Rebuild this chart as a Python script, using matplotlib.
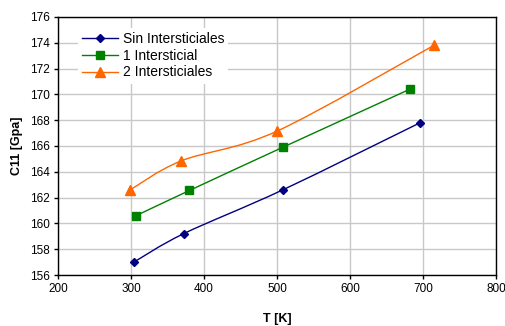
import numpy as np
import matplotlib.pyplot as plt
from matplotlib.path import Path
from matplotlib.patches import PathPatch

plt.rcParams['font.family'] = ['Liberation Sans', 'DejaVu Sans']

# datos
t_sin = [304, 372, 508, 696]
c11_sin = [157.0, 159.2, 162.6, 167.8]
t_1 = [307, 380, 508, 682]
c11_1 = [160.6, 162.55, 165.9, 170.4]
t_2 = [299, 369, 500, 715]
c11_2 = [162.6, 164.85, 167.15, 173.8]

series = [
    ('Sin Intersticiales', t_sin, c11_sin, '#000080', 'D', 4.5),
    ('1 Intersticial', t_1, c11_1, '#008000', 's', 6),
    ('2 Intersticiales', t_2, c11_2, '#FF6600', '^', 7),
]


def smooth_path(x, y, tension=1 / 6):
    # curva suavizada tipo Excel (Catmull-Rom en forma Bezier)
    x = np.asarray(x, float)
    y = np.asarray(y, float)
    verts = [(x[0], y[0])]
    codes = [Path.MOVETO]
    n = len(x)
    for i in range(n - 1):
        p0 = i - 1 if i > 0 else i
        p3 = i + 2 if i + 2 < n else i + 1
        c1 = (x[i] + (x[i + 1] - x[p0]) * tension, y[i] + (y[i + 1] - y[p0]) * tension)
        c2 = (x[i + 1] - (x[p3] - x[i]) * tension, y[i + 1] - (y[p3] - y[i]) * tension)
        verts += [c1, c2, (x[i + 1], y[i + 1])]
        codes += [Path.CURVE4] * 3
    return Path(verts, codes)


fig = plt.figure(figsize=(5.06, 3.26), dpi=100)
ax = fig.add_axes([0.1146, 0.1564, 0.8656, 0.7916])

for name, x, y, col, mk, ms in series:
    ax.add_patch(PathPatch(smooth_path(x, y), fill=False, edgecolor=col, linewidth=1.0))
    ax.plot(x, y, linestyle='none', marker=mk, markersize=ms, color=col)
    ax.plot([], [], color=col, marker=mk, markersize=ms, linewidth=1.0, label=name)

ax.set_xlim(200, 800)
ax.set_ylim(156, 176)
ax.set_xticks(np.arange(200, 801, 100))
ax.set_yticks(np.arange(156, 177, 2))
ax.grid(True, color='#c8c8c8', linewidth=1.0)
ax.set_axisbelow(True)
for s in ax.spines.values():
    s.set_color('black')
    s.set_linewidth(1.0)
ax.tick_params(axis='both', labelsize=8.5, length=3, width=1, pad=3)

ax.set_xlabel('T [K]', fontsize=9, fontweight='bold', labelpad=12.5)
ax.set_ylabel('C11 [Gpa]', fontsize=9, fontweight='bold', labelpad=5)

leg = ax.legend(loc='upper left', bbox_to_anchor=(0.03, 0.985), fontsize=10,
                frameon=True, fancybox=False, edgecolor='none', facecolor='white',
                framealpha=1, handlelength=2.6, handletextpad=0.3, labelspacing=0.2,
                borderpad=0.3)

fig.savefig('out.png', dpi=100)
